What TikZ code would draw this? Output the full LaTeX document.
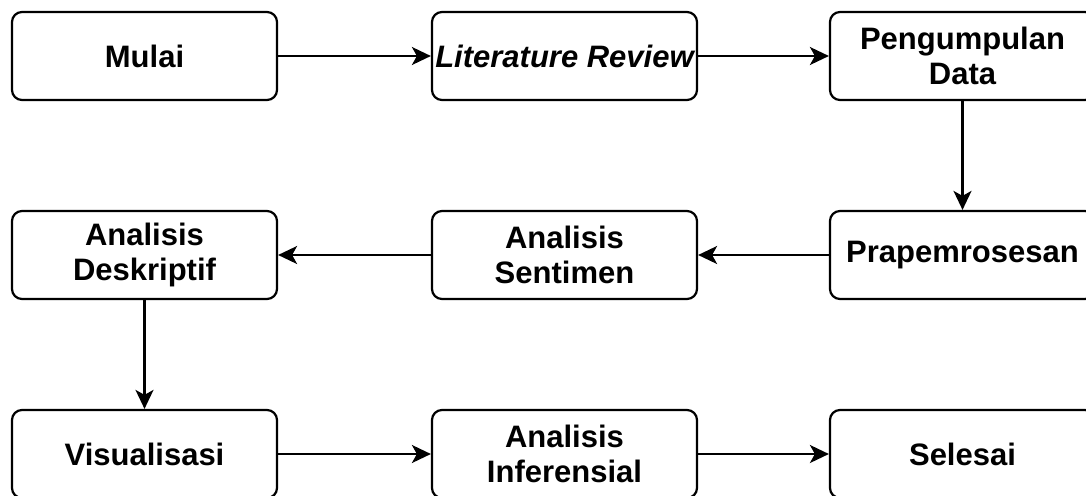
\documentclass[tikz,border=0pt]{standalone}
\usepackage{fontspec}
\setmainfont{Liberation Sans}
\usetikzlibrary{arrows.meta}
\begin{document}
\begin{tikzpicture}[x=1pt,y=-1pt,
  flowbox/.style={draw=black, line width=2.2pt, rounded corners=10pt, fill=white,
    minimum width=265pt, minimum height=88pt, inner sep=0pt, align=center,
    font=\fontsize{31}{35}\selectfont\bfseries},
  flowarrow/.style={draw=black, line width=2.2pt, -{Stealth[length=19pt,width=18pt,inset=5pt]}}]
\useasboundingbox (0,0) rectangle (1086,495);
\clip (0,0) rectangle (1086,495);
\node[flowbox] (mulai) at (144.5,56) {Mulai};
\node[flowbox] (lit) at (564.5,56) {\itshape Literature Review};
\node[flowbox] (peng) at (962.5,56) {Pengumpulan\\Data};
\node[flowbox] (desk) at (144.5,255) {Analisis\\Deskriptif};
\node[flowbox] (sent) at (564.5,255) {Analisis\\Sentimen};
\node[flowbox] (prap) at (962.5,255) {Prapemrosesan};
\node[flowbox] (vis) at (144.5,454) {Visualisasi};
\node[flowbox] (inf) at (564.5,454) {Analisis\\Inferensial};
\node[flowbox] (sel) at (962.5,454) {Selesai};
\draw[flowarrow] (mulai) -- (lit);
\draw[flowarrow] (lit) -- (peng);
\draw[flowarrow] (peng) -- (prap);
\draw[flowarrow] (prap) -- (sent);
\draw[flowarrow] (sent) -- (desk);
\draw[flowarrow] (desk) -- (vis);
\draw[flowarrow] (vis) -- (inf);
\draw[flowarrow] (inf) -- (sel);
\end{tikzpicture}
\end{document}
